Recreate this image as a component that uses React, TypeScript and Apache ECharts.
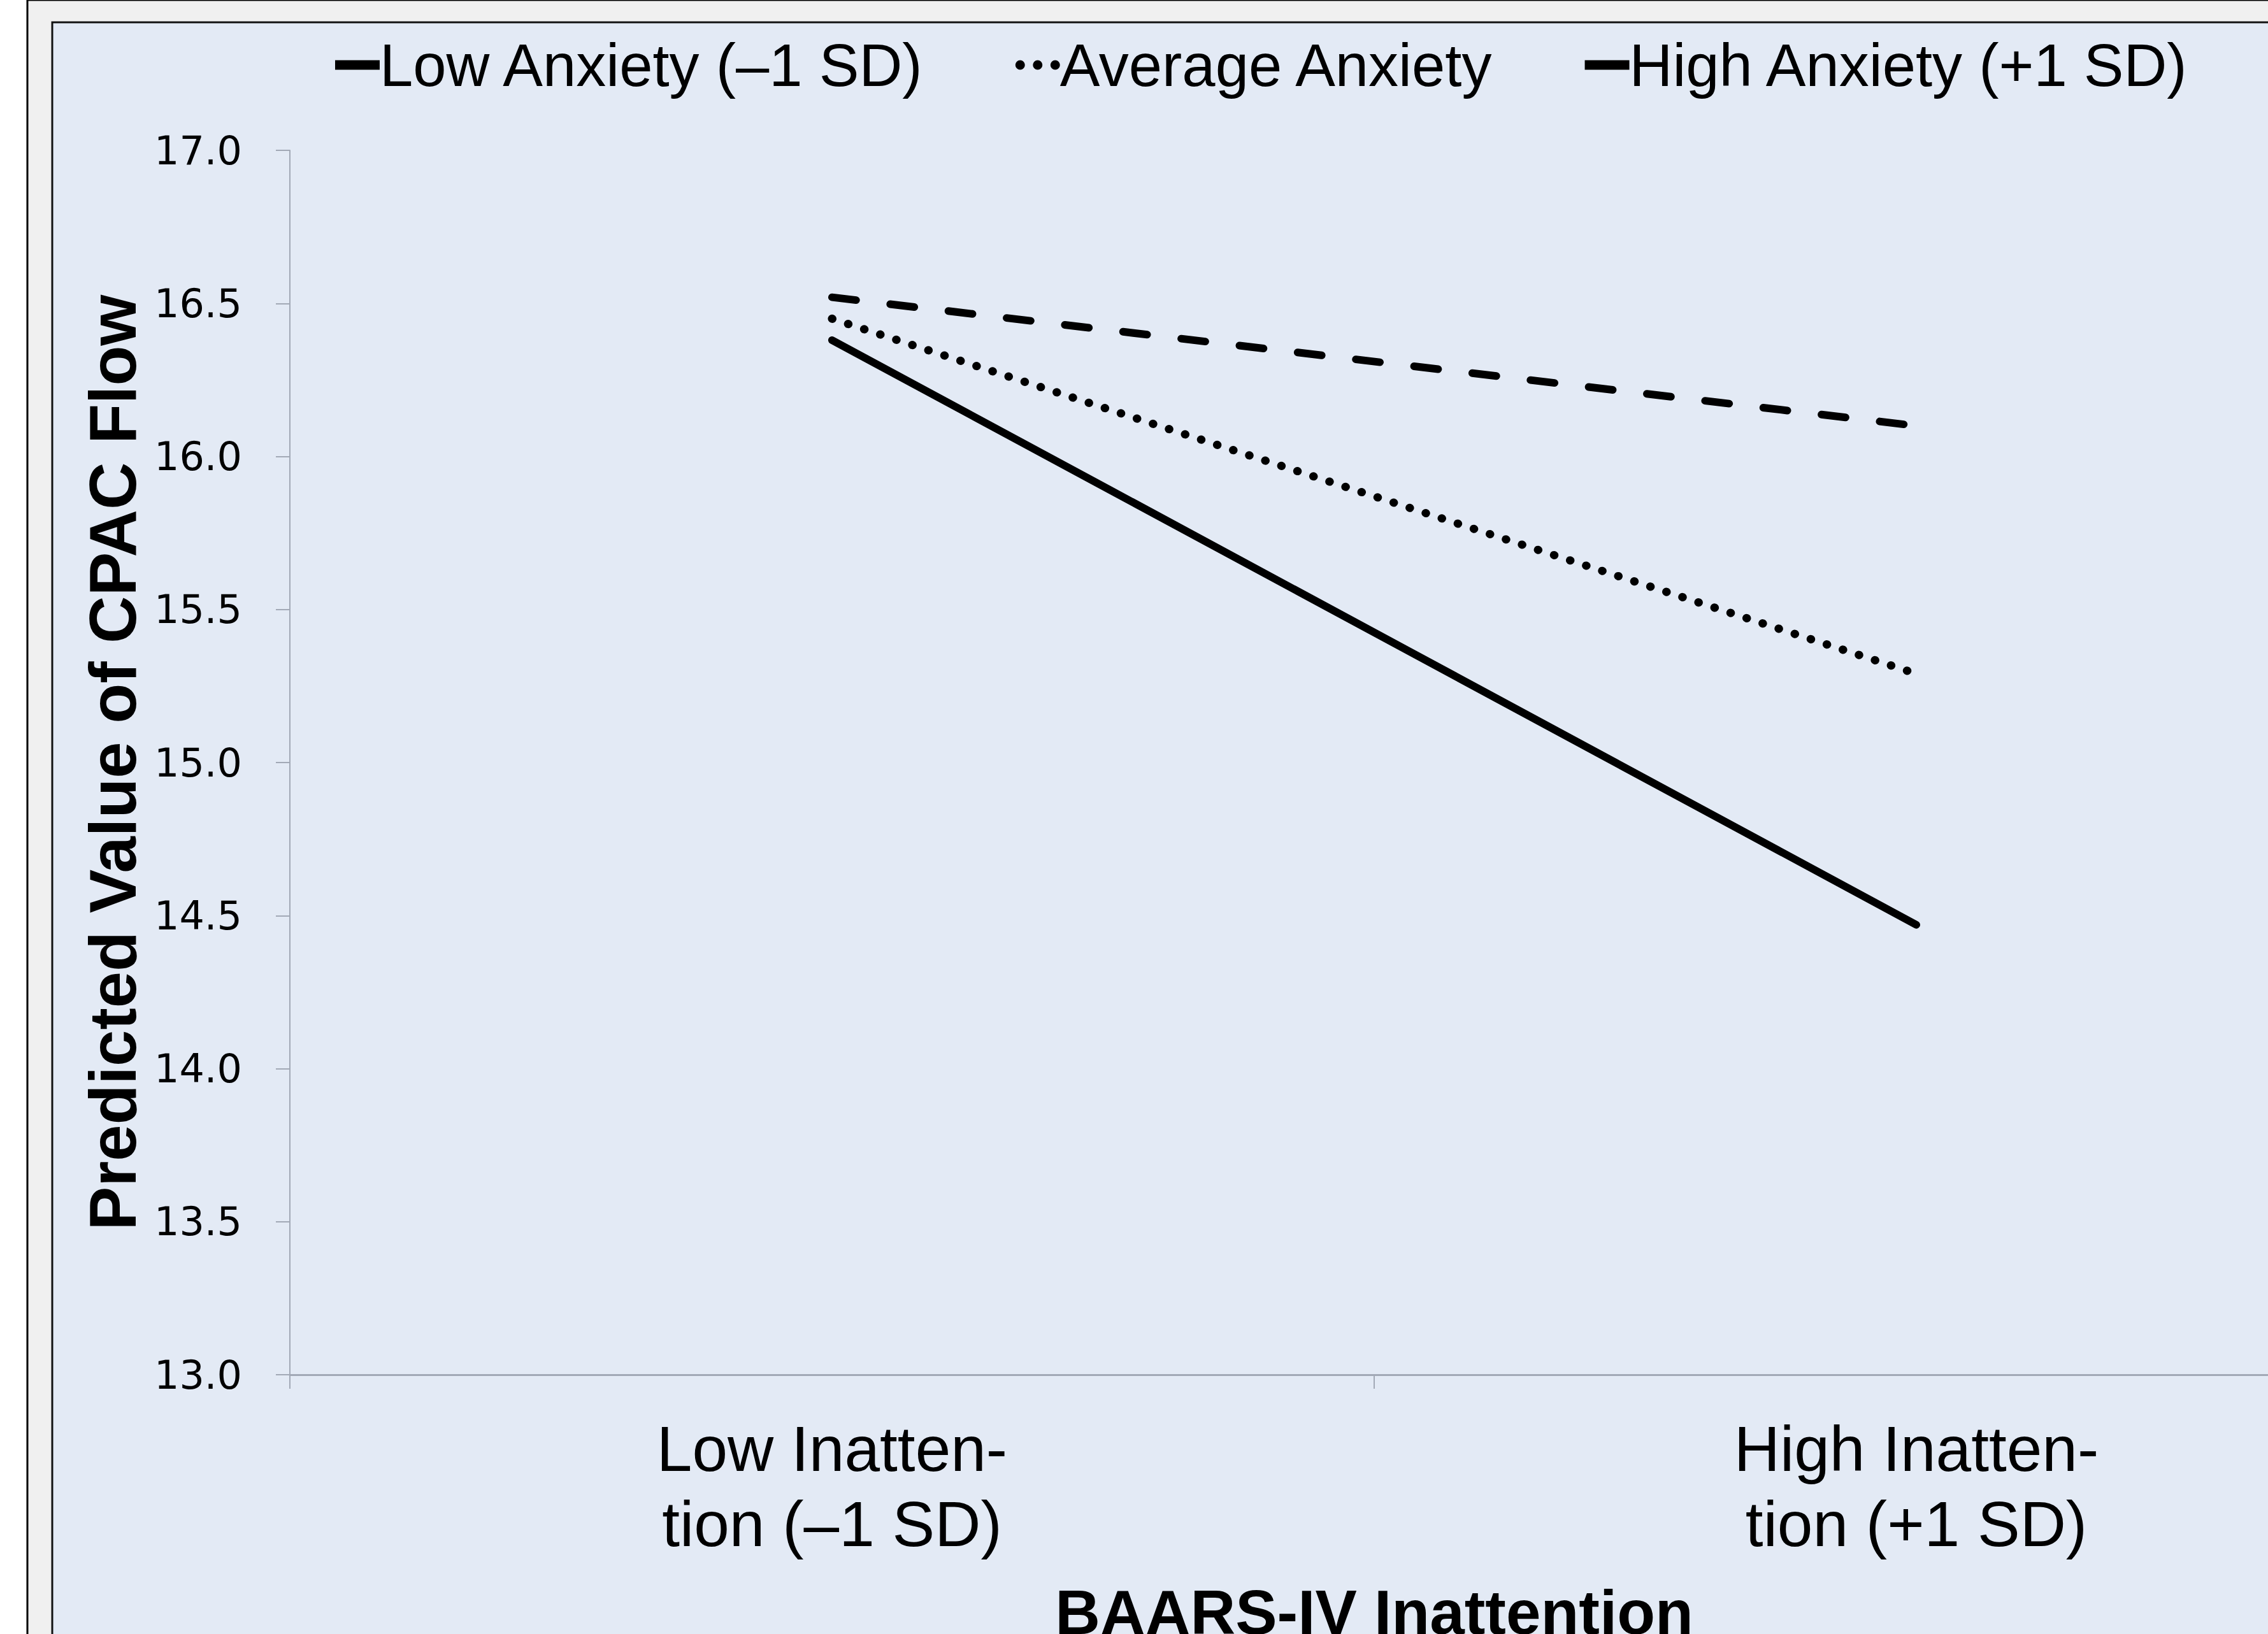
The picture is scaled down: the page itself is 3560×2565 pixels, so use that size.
import React, { useEffect, useRef } from "react";
import * as echarts from "echarts";

const categories = ["Low Inatten-\ntion (–1 SD)", "High Inatten-\ntion (+1 SD)"];
const seriesNames = ["Low Anxiety (–1 SD)", "Average Anxiety", "High Anxiety (+1 SD)"];
const lowAnxiety = [16.38, 14.47];
const averageAnxiety = [16.45, 15.29];
const highAnxiety = [16.52, 16.1];
const yMin = 13;
const yMax = 17;
const yInterval = 0.5;
const xTitle = "BAARS-IV Inattention";
const yTitle = "Predicted Value of CPAC Flow";

const legendIcons = [
  "path://M0,0L70,0L70,15L0,15Z",
  "path://M0,7.5A7.5,7.5 0 1,0 15,7.5A7.5,7.5 0 1,0 0,7.5ZM27.5,7.5A7.5,7.5 0 1,0 42.5,7.5A7.5,7.5 0 1,0 27.5,7.5ZM55,7.5A7.5,7.5 0 1,0 70,7.5A7.5,7.5 0 1,0 55,7.5Z",
  "path://M0,0L70,0L70,15L0,15Z",
];

export default function App() {
  const ref = useRef<HTMLDivElement>(null);
  useEffect(() => {
    if (!ref.current) return;
    const chart = echarts.init(ref.current, null, { renderer: "svg" });
    const axisGray = "#a2a9b6";
    const lineBase = { color: "#000000", width: 12, cap: "round" as const };
    chart.setOption({
      animation: false,
      backgroundColor: "#ffffff",
      graphic: [
        { type: "rect", z: -10, shape: { x: 43, y: 0, width: 3900, height: 2600 }, style: { fill: "#f0f0f0", stroke: "#000", lineWidth: 3 } },
        { type: "rect", z: -9, shape: { x: 82, y: 35, width: 3900, height: 2600 }, style: { fill: "#e3eaf5", stroke: "#111", lineWidth: 3 } },
      ],
      legend: {
        left: 521,
        top: 47,
        itemWidth: 70,
        itemHeight: 15,
        itemGap: 141,
        textStyle: { fontFamily: "Liberation Sans", fontSize: 94, color: "#000", lineHeight: 100, padding: [0, 0, 0, -5] },
        data: seriesNames.map((n, i) => ({ name: n, icon: legendIcons[i] })),
      },
      grid: { left: 455, top: 236, width: 3404, height: 1922, containLabel: false, outerBoundsMode: "none" },
      xAxis: {
        type: "category",
        data: categories,
        boundaryGap: true,
        axisLine: { show: true, lineStyle: { color: axisGray, width: 3 } },
        axisTick: { show: true, length: 22, lineStyle: { color: axisGray, width: 2 } },
        axisLabel: { margin: 57, fontFamily: "Liberation Sans", fontSize: 100, lineHeight: 118, color: "#000" },
        name: xTitle,
        nameLocation: "middle",
        nameGap: 324,
        nameTextStyle: { fontFamily: "Liberation Sans", fontWeight: "bold", fontSize: 98, color: "#000" },
      },
      yAxis: {
        type: "value",
        min: yMin,
        max: yMax,
        interval: yInterval,
        axisLine: { show: true, lineStyle: { color: axisGray, width: 2 } },
        axisTick: { show: true, length: 22, lineStyle: { color: axisGray, width: 2 } },
        splitLine: { show: false },
        axisLabel: { margin: 75, fontFamily: "DejaVu Sans", fontSize: 62, color: "#000", formatter: (v: number) => v.toFixed(1) },
        name: yTitle,
        nameLocation: "middle",
        nameGap: 226,
        nameTextStyle: { fontFamily: "Liberation Sans", fontWeight: "bold", fontSize: 103, color: "#000" },
      },
      series: [
        { name: seriesNames[0], type: "line", data: lowAnxiety, symbol: "none", color: "#000", lineStyle: { ...lineBase, type: "solid" } },
        { name: seriesNames[1], type: "line", data: averageAnxiety, symbol: "none", color: "#000", lineStyle: { ...lineBase, width: 13, type: [0.5, 26] } },
        { name: seriesNames[2], type: "line", data: highAnxiety, symbol: "none", color: "#000", lineStyle: { ...lineBase, type: [38, 54] } },
      ],
    });
    return () => chart.dispose();
  }, []);
  return (
    <div style={{ position: "absolute", left: 0, top: 0, width: 3560, height: 2565, overflow: "hidden" }}>
      <div ref={ref} style={{ position: "absolute", left: 0, top: 0, width: 3900, height: 2565 }} />
    </div>
  );
}
